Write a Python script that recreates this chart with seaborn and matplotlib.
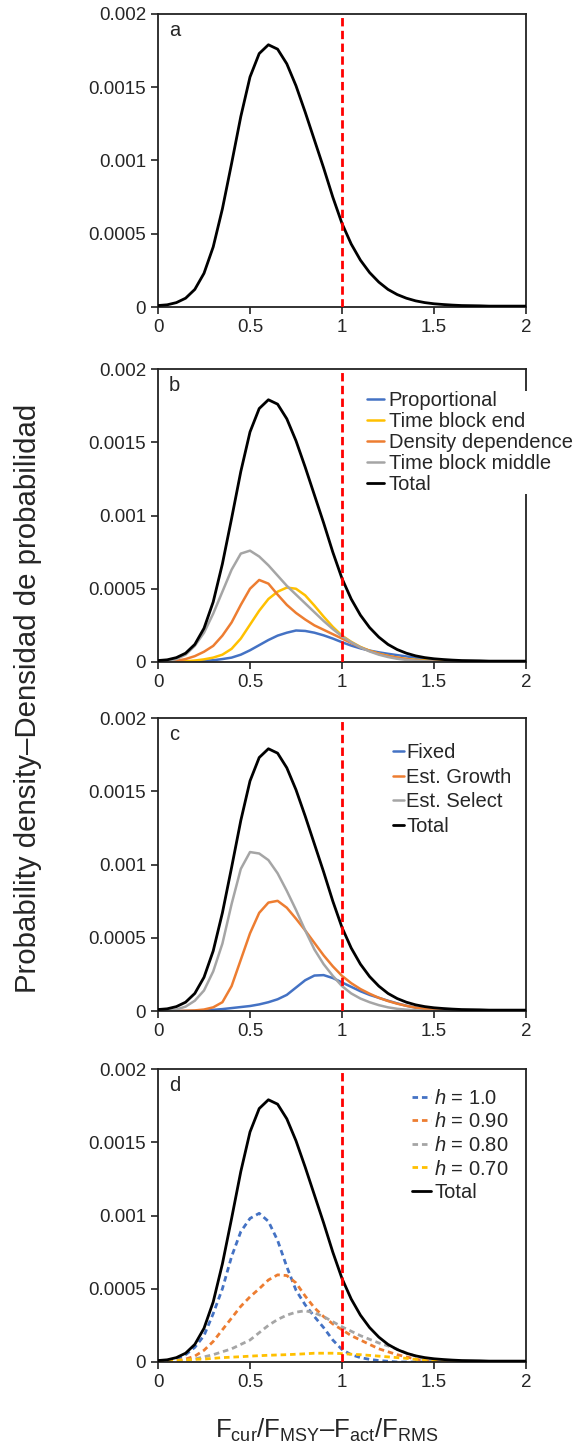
import numpy as np
import pandas as pd
import matplotlib
matplotlib.use("Agg")
import matplotlib.pyplot as plt
import seaborn as sns

sns.set_style("ticks")
plt.rcParams["font.family"] = ["Liberation Sans", "DejaVu Sans"]
plt.rcParams["mathtext.fontset"] = "custom"
plt.rcParams["mathtext.rm"] = "Liberation Sans"
plt.rcParams["mathtext.it"] = "Liberation Sans:italic"
plt.rcParams["lines.solid_joinstyle"] = "round"

# eje x : F actual / F RMS
f_ratio = [0.00, 0.05, 0.10, 0.15, 0.20, 0.25, 0.30, 0.35, 0.40, 0.45,
           0.50, 0.55, 0.60, 0.65, 0.70, 0.75, 0.80, 0.85, 0.90, 0.95,
           1.00, 1.05, 1.10, 1.15, 1.20, 1.25, 1.30, 1.35, 1.40, 1.45,
           1.50, 1.55, 1.60, 1.65, 1.70, 1.75, 1.80, 1.85, 1.90, 1.95, 2.00]

# densidad total (misma en los 4 paneles)
total = [0.1e-4, 0.15e-4, 0.3e-4, 0.6e-4, 1.2e-4, 2.3e-4, 4.1e-4, 6.7e-4, 9.8e-4, 13.0e-4,
         15.7e-4, 17.3e-4, 17.9e-4, 17.6e-4, 16.6e-4, 15.1e-4, 13.3e-4, 11.4e-4, 9.5e-4, 7.5e-4,
         5.7e-4, 4.3e-4, 3.2e-4, 2.35e-4, 1.7e-4, 1.2e-4, 0.85e-4, 0.6e-4, 0.42e-4, 0.3e-4,
         0.22e-4, 0.17e-4, 0.13e-4, 0.1e-4, 0.09e-4, 0.08e-4, 0.06e-4, 0.06e-4, 0.06e-4, 0.06e-4, 0.06e-4]

# panel b : tipos de selectividad temporal
proportional = [0, 0, 0, 0.02e-4, 0.04e-4, 0.08e-4, 0.12e-4, 0.2e-4, 0.3e-4, 0.5e-4,
                0.8e-4, 1.15e-4, 1.5e-4, 1.8e-4, 2.0e-4, 2.15e-4, 2.12e-4, 2.0e-4, 1.82e-4, 1.6e-4,
                1.35e-4, 1.12e-4, 0.93e-4, 0.78e-4, 0.66e-4, 0.56e-4, 0.47e-4, 0.38e-4, 0.29e-4, 0.21e-4,
                0.15e-4, 0.1e-4, 0.06e-4, 0.03e-4, 0, 0, 0, 0, 0, 0, 0]
tb_end = [0, 0, 0.02e-4, 0.05e-4, 0.1e-4, 0.18e-4, 0.3e-4, 0.5e-4, 0.9e-4, 1.6e-4,
          2.55e-4, 3.5e-4, 4.3e-4, 4.8e-4, 5.08e-4, 5.0e-4, 4.55e-4, 3.85e-4, 3.1e-4, 2.4e-4,
          1.8e-4, 1.38e-4, 1.03e-4, 0.77e-4, 0.57e-4, 0.42e-4, 0.3e-4, 0.21e-4, 0.15e-4, 0.1e-4,
          0.07e-4, 0.05e-4, 0.03e-4, 0, 0, 0, 0, 0, 0, 0, 0]
density_dep = [0, 0.03e-4, 0.08e-4, 0.2e-4, 0.4e-4, 0.7e-4, 1.1e-4, 1.8e-4, 2.7e-4, 3.9e-4,
               5.0e-4, 5.6e-4, 5.35e-4, 4.6e-4, 3.9e-4, 3.35e-4, 2.9e-4, 2.5e-4, 2.2e-4, 1.9e-4,
               1.6e-4, 1.3e-4, 1.0e-4, 0.76e-4, 0.56e-4, 0.41e-4, 0.3e-4, 0.2e-4, 0.12e-4, 0.07e-4,
               0.04e-4, 0, 0, 0, 0, 0, 0, 0, 0, 0, 0]
tb_middle = [0, 0.05e-4, 0.2e-4, 0.5e-4, 1.1e-4, 2.0e-4, 3.3e-4, 4.8e-4, 6.3e-4, 7.4e-4,
             7.6e-4, 7.2e-4, 6.6e-4, 5.9e-4, 5.2e-4, 4.6e-4, 4.0e-4, 3.4e-4, 2.8e-4, 2.25e-4,
             1.75e-4, 1.35e-4, 1.0e-4, 0.72e-4, 0.5e-4, 0.34e-4, 0.22e-4, 0.14e-4, 0.09e-4, 0.05e-4,
             0.03e-4, 0, 0, 0, 0, 0, 0, 0, 0, 0, 0]

# panel c : crecimiento / selectividad
fixed = [0, 0, 0, 0, 0, 0.03e-4, 0.08e-4, 0.13e-4, 0.2e-4, 0.27e-4,
         0.34e-4, 0.45e-4, 0.6e-4, 0.8e-4, 1.1e-4, 1.6e-4, 2.1e-4, 2.42e-4, 2.45e-4, 2.25e-4,
         1.95e-4, 1.65e-4, 1.35e-4, 1.1e-4, 0.9e-4, 0.7e-4, 0.52e-4, 0.36e-4, 0.23e-4, 0.14e-4,
         0.09e-4, 0.05e-4, 0, 0, 0, 0, 0, 0, 0, 0, 0]
est_growth = [0, 0, 0, 0.02e-4, 0.04e-4, 0.1e-4, 0.25e-4, 0.6e-4, 1.7e-4, 3.5e-4,
              5.3e-4, 6.7e-4, 7.4e-4, 7.52e-4, 7.05e-4, 6.3e-4, 5.5e-4, 4.65e-4, 3.8e-4, 3.05e-4,
              2.4e-4, 1.9e-4, 1.5e-4, 1.18e-4, 0.9e-4, 0.68e-4, 0.5e-4, 0.35e-4, 0.23e-4, 0.14e-4,
              0.09e-4, 0.05e-4, 0, 0, 0, 0, 0, 0, 0, 0, 0]
est_select = [0, 0.03e-4, 0.1e-4, 0.3e-4, 0.7e-4, 1.4e-4, 2.7e-4, 4.6e-4, 7.3e-4, 9.7e-4,
              10.85e-4, 10.75e-4, 10.3e-4, 9.4e-4, 8.2e-4, 6.9e-4, 5.5e-4, 4.2e-4, 3.2e-4, 2.4e-4,
              1.7e-4, 1.2e-4, 0.85e-4, 0.6e-4, 0.4e-4, 0.25e-4, 0.15e-4, 0.09e-4, 0.05e-4, 0,
              0, 0, 0, 0, 0, 0, 0, 0, 0, 0, 0]

# panel d : steepness h
h_100 = [0.05e-4, 0.08e-4, 0.2e-4, 0.5e-4, 1.0e-4, 1.8e-4, 3.3e-4, 5.0e-4, 7.2e-4, 8.9e-4,
         9.8e-4, 10.15e-4, 9.6e-4, 8.3e-4, 6.5e-4, 4.9e-4, 3.9e-4, 3.1e-4, 2.35e-4, 1.5e-4,
         0.85e-4, 0.5e-4, 0.3e-4, 0.18e-4, 0.1e-4, 0.05e-4, 0, 0, 0, 0,
         0, 0, 0, 0, 0, 0, 0, 0, 0, 0, 0]
h_090 = [0.03e-4, 0.06e-4, 0.1e-4, 0.2e-4, 0.4e-4, 0.8e-4, 1.4e-4, 2.2e-4, 3.0e-4, 3.8e-4,
         4.45e-4, 5.0e-4, 5.6e-4, 5.95e-4, 5.9e-4, 5.4e-4, 4.5e-4, 3.7e-4, 3.1e-4, 2.6e-4,
         2.2e-4, 1.8e-4, 1.5e-4, 1.2e-4, 0.9e-4, 0.7e-4, 0.5e-4, 0.35e-4, 0.2e-4, 0.1e-4,
         0.05e-4, 0, 0, 0, 0, 0, 0, 0, 0, 0, 0]
h_080 = [0, 0.03e-4, 0.06e-4, 0.1e-4, 0.2e-4, 0.35e-4, 0.5e-4, 0.7e-4, 0.9e-4, 1.2e-4,
         1.5e-4, 2.0e-4, 2.5e-4, 2.9e-4, 3.2e-4, 3.4e-4, 3.5e-4, 3.35e-4, 3.1e-4, 2.75e-4,
         2.4e-4, 2.1e-4, 1.8e-4, 1.55e-4, 1.3e-4, 1.1e-4, 0.88e-4, 0.62e-4, 0.4e-4, 0.2e-4,
         0.1e-4, 0.05e-4, 0, 0, 0, 0, 0, 0, 0, 0, 0]
h_070 = [0.05e-4, 0.07e-4, 0.1e-4, 0.14e-4, 0.18e-4, 0.2e-4, 0.25e-4, 0.3e-4, 0.33e-4, 0.36e-4,
         0.4e-4, 0.43e-4, 0.46e-4, 0.48e-4, 0.5e-4, 0.53e-4, 0.56e-4, 0.6e-4, 0.6e-4, 0.6e-4,
         0.57e-4, 0.53e-4, 0.5e-4, 0.45e-4, 0.4e-4, 0.35e-4, 0.3e-4, 0.25e-4, 0.18e-4, 0.1e-4,
         0.05e-4, 0, 0, 0, 0, 0, 0, 0, 0, 0, 0]

azul, amarillo, naranja, gris = "#4472C4", "#FFC000", "#ED7D31", "#A5A5A5"

fig = plt.figure(figsize=(5.76, 14.53), dpi=100)
left, width, height = 158 / 576, 368 / 576, 293 / 1453
bottoms = [(1453 - 307) / 1453, (1453 - 662) / 1453, (1453 - 1011) / 1453, (1453 - 1362) / 1453]
axes = [fig.add_axes([left, b, width, height]) for b in bottoms]

# series de cada panel : (datos, etiqueta, color)
paneles = [
    [],
    [(proportional, "Proportional", azul), (tb_end, "Time block end", amarillo),
     (density_dep, "Density dependence", naranja), (tb_middle, "Time block middle", gris)],
    [(fixed, "Fixed", azul), (est_growth, "Est. Growth", naranja), (est_select, "Est. Select", gris)],
    [(h_100, "$h$ = 1.0", azul), (h_090, "$h$ = 0.90", naranja),
     (h_080, "$h$ = 0.80", gris), (h_070, "$h$ = 0.70", amarillo)],
]
letras = ["a", "b", "c", "d"]

for i, ax in enumerate(axes):
    for datos, etiqueta, color in paneles[i]:
        if i == 3:
            sns.lineplot(x=f_ratio, y=datos, color=color, lw=2.0, label=etiqueta,
                         ax=ax, linestyle=(0, (2, 1.4)))
        else:
            sns.lineplot(x=f_ratio, y=datos, color=color, lw=1.8, label=etiqueta, ax=ax)
    sns.lineplot(x=f_ratio, y=total, color="black", lw=2.0, label="Total", ax=ax, zorder=3)
    ax.axvline(1, color="#FF0000", lw=2.0, linestyle=(0, (3, 1.6)), zorder=4)

    ax.set_xlim(0, 2)
    ax.set_ylim(0, 0.002)
    ax.set_xticks([0, 0.5, 1, 1.5, 2])
    ax.set_xticklabels(["0", "0.5", "1", "1.5", "2"])
    ax.set_yticks([0, 0.0005, 0.001, 0.0015, 0.002])
    ax.set_yticklabels(["0", "0.0005", "0.001", "0.0015", "0.002"])
    ax.tick_params(labelsize=13.5, length=5, width=1.2, direction="out", color="#222222")
    for s in ax.spines.values():
        s.set_visible(True)
        s.set_linewidth(1.3)
        s.set_color("#222222")
    ax.text(0.03, 0.975, letras[i], transform=ax.transAxes, fontsize=14.5, va="top", ha="left")

    if ax.get_legend() is not None:
        ax.get_legend().remove()

# leyendas
axes[1].legend(loc="upper left", bbox_to_anchor=(0.567, 0.925), fontsize=14.5,
               frameon=True, facecolor="white", edgecolor="none", framealpha=1,
               borderpad=0, borderaxespad=0, handlelength=0.85, handletextpad=0.25,
               labelspacing=0.1)
axes[2].legend(loc="upper left", bbox_to_anchor=(0.638, 0.913), fontsize=14.5, frameon=False,
               borderpad=0, borderaxespad=0, handlelength=0.55, handletextpad=0.12,
               labelspacing=0.27)
axes[3].legend(loc="upper left", bbox_to_anchor=(0.69, 0.933), fontsize=14.5, frameon=False,
               borderpad=0, borderaxespad=0, handlelength=0.95, handletextpad=0.15,
               labelspacing=0.23)

fig.text(28 / 576, 1 - 698 / 1453, "Probability density\u2013Densidad de probabilidad",
         rotation=90, ha="center", va="center", fontsize=21.2)
fig.text(327 / 576, 1 - 1430 / 1453,
         "F$_{\\mathrm{cur}}$/F$_{\\mathrm{MSY}}$\u2013F$_{\\mathrm{act}}$/F$_{\\mathrm{RMS}}$",
         ha="center", va="center", fontsize=18.5)

plt.savefig("out.png", dpi=100)
